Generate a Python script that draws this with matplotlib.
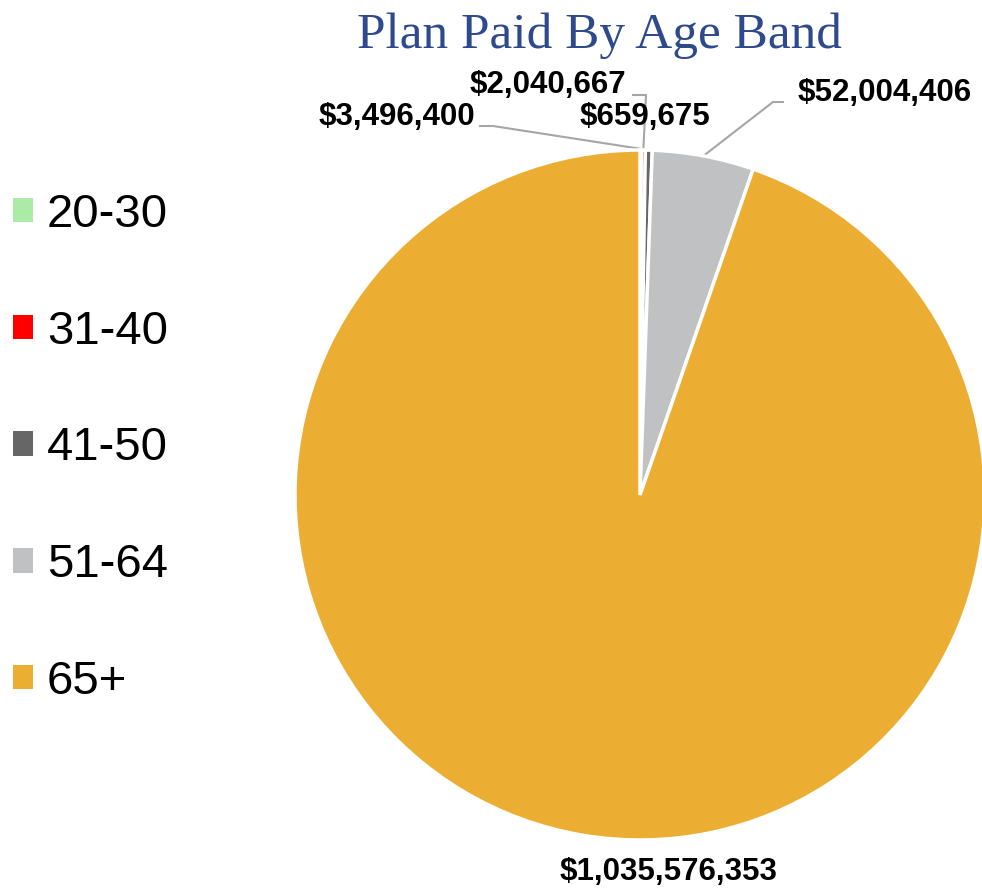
import numpy as np
import matplotlib
matplotlib.use("Agg")
import matplotlib.pyplot as plt
from matplotlib.patches import Patch

# data
age_bands = ['20-30', '31-40', '41-50', '51-64', '65+']
plan_paid = [659675, 2040667, 3496400, 52004406, 1035576353]
colors = ['#ACEAA8', '#FF0000', '#666666', '#C0C1C3', '#ECAE32']

# label positions (pixels in the reference, converted below) and leader elbows
label_pos = [(645, 117), (548, 85), (397, 117), (885, 93), (668, 872)]
label_elbow = [None, (646, 95), (493, 126), (773, 102), None]
label_end = [None, (633, 95), (480, 126), (783, 102), None]

W, H = 982, 890
cx, cy, R = 640, 495, 345


def to_data(p):
    return ((p[0] - cx) / R, (cy - p[1]) / R)


fig = plt.figure(figsize=(W / 100, H / 100), dpi=100)
ax = fig.add_axes([(cx - R) / W, (H - cy - R) / H, 2 * R / W, 2 * R / H])

wedges, _ = ax.pie(plan_paid, colors=colors, startangle=90, counterclock=False,
                   radius=1, wedgeprops=dict(edgecolor='white', linewidth=2.5))
ax.set_xlim(-1, 1)
ax.set_ylim(-1, 1)
ax.set_aspect('equal')
ax.axis('off')

for i, w in enumerate(wedges):
    txt = '${:,}'.format(plan_paid[i])
    tx, ty = to_data(label_pos[i])
    ax.text(tx, ty, txt, ha='center', va='center', fontsize=22.5,
            fontweight='bold', family='Liberation Sans', clip_on=False)
    if label_elbow[i] is not None:
        mid = np.deg2rad((w.theta1 + w.theta2) / 2)
        ex, ey = np.cos(mid), np.sin(mid)
        bx, by = to_data(label_elbow[i])
        sx, sy = to_data(label_end[i])
        ax.plot([ex, bx, sx], [ey, by, sy], color='#A6A6A6', lw=1.5,
                clip_on=False, zorder=0)

fig.text(599 / W, 1 - 36 / H, 'Plan Paid By Age Band', ha='center', va='center',
         fontsize=37, family='Liberation Serif', color='#2E4A8C')

handles = [Patch(facecolor=c, edgecolor='none') for c in colors]
fig.legend(handles, age_bands, loc='upper left', bbox_to_anchor=(13 / W, 1 - 193 / H),
           frameon=False, prop={'family': 'Liberation Sans', 'size': 34},
           handlelength=0.42, handleheight=0.42, handletextpad=0.3,
           labelspacing=1.54, borderpad=0, borderaxespad=0)

fig.savefig('out.png', dpi=100)
